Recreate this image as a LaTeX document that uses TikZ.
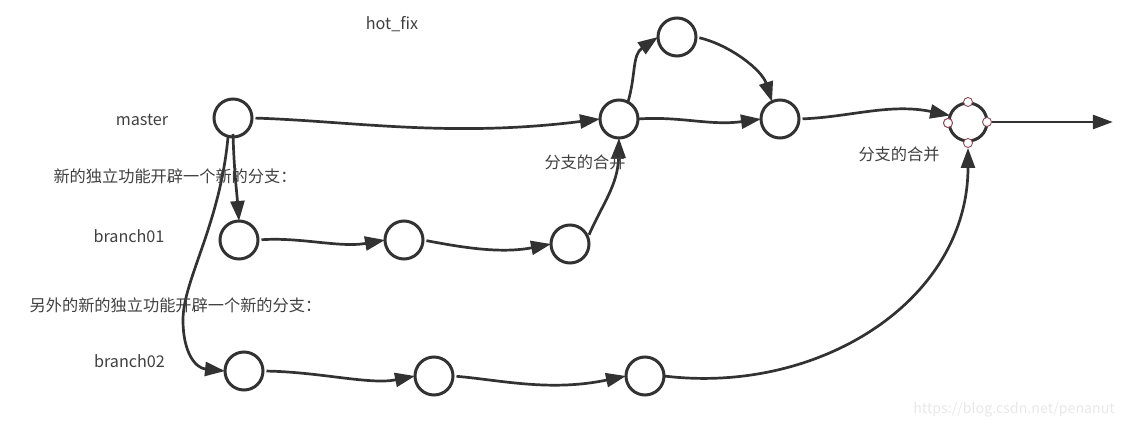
\documentclass[tikz,border=0pt]{standalone}
\usepackage{fontspec}
\setmainfont{Noto Sans CJK SC}
\usetikzlibrary{arrows.meta}
\definecolor{ink}{HTML}{323232}
\definecolor{txt}{HTML}{404040}
\definecolor{port}{HTML}{8E4A5C}
\tikzset{
  commit/.style={circle,draw=ink,line width=3pt,fill=white,minimum size=38pt,inner sep=0pt,outer sep=0pt},
  portdot/.style={circle,draw=port,line width=0.9pt,fill=white,minimum size=9pt,inner sep=0pt},
  flow/.style={draw=ink,line width=2.7pt,-{Triangle[length=20pt,width=14pt,fill=ink]}},
  gap/.style={shorten <=3.5pt},
  lbl/.style={text=txt,font=\fontsize{16.2pt}{19pt}\selectfont,inner sep=0pt,anchor=center},
  wmark/.style={text=black!9,font=\fontsize{14.2pt}{18pt}\selectfont,inner sep=0pt}
}
\begin{document}
\begin{tikzpicture}[x=1pt,y=-1pt]
\useasboundingbox (0,0) rectangle (1125,427);
\node[commit] (m) at (233,118) {};
\node[commit] (a1) at (239,240) {};
\node[commit] (a2) at (404,240) {};
\node[commit] (a3) at (570,244) {};
\node[commit] (c1) at (244,371) {};
\node[commit] (c2) at (434,376) {};
\node[commit] (c3) at (645,376) {};
\node[commit] (n1) at (619,119) {};
\node[commit] (t) at (677,37) {};
\node[commit] (n2) at (780,119) {};
\node[commit] (g) at (968,122) {};
\node[portdot] (gn) at (968,102) {};
\node[portdot] (gs) at (968,143) {};
\node[portdot] (gw) at (948,123) {};
\node[portdot] (ge) at (987,122) {};
\node[inner sep=0pt,minimum size=0pt] (end) at (1113,122) {};

\draw[flow,gap] (m.east) .. controls (350,121) and (450,138) .. (n1.west);
\draw[flow] ([yshift=3pt]m.south) .. controls (234,170) and (237,195) .. (a1.north);
\draw[flow] (m.-105) .. controls (220,225) and (183,280) .. (183,320) .. controls (183,352) and (195,368) .. (c1.west);
\draw[flow,gap] (a1.east) .. controls (300,237) and (340,248) .. (a2.west);
\draw[flow,gap] (a2.east) .. controls (460,247) and (500,254) .. (a3.west);
\draw[flow,shorten <=3pt] (a3.20) .. controls (602,205) and (618,185) .. (n1.south);
\draw[flow,gap] (c1.east) .. controls (320,372) and (370,385) .. (c2.west);
\draw[flow,gap] (c2.east) .. controls (500,380) and (550,392) .. (c3.west);
\draw[flow] (c3.east) .. controls (820,395) and (968,300) .. (gs.south);
\draw[flow] (n1.62) .. controls (636,75) and (632,55) .. (t.west);
\draw[flow,gap] (t.east) .. controls (730,45) and (762,70) .. (n2.115);
\draw[flow] (n1.east) .. controls (680,116) and (710,126) .. (n2.west);
\draw[flow,gap] (n2.east) .. controls (850,117) and (890,103) .. (g.160);
\draw[flow] (ge.east) -- (end);
\node[portdot] at (gw) {};

\node[lbl] (l1) at (392,24.5) {hot\_fix};
\node[lbl] (l2) at (142,119.5) {master};
\node[lbl] (l3) at (175,176.5) {新的独立功能开辟一个新的分支：};
\node[lbl] (l4) at (129,236) {branch01};
\node[lbl] (l5) at (175.5,305.5) {另外的新的独立功能开辟一个新的分支：};
\node[lbl] (l6) at (129.5,361) {branch02};
\node[lbl] (l7) at (585,162.5) {分支的合并};
\node[lbl] (l8) at (899,154.5) {分支的合并};
\node[wmark,anchor=east] (w) at (1115,410) {https://blog.csdn.net/penanut};
\end{tikzpicture}
\end{document}
